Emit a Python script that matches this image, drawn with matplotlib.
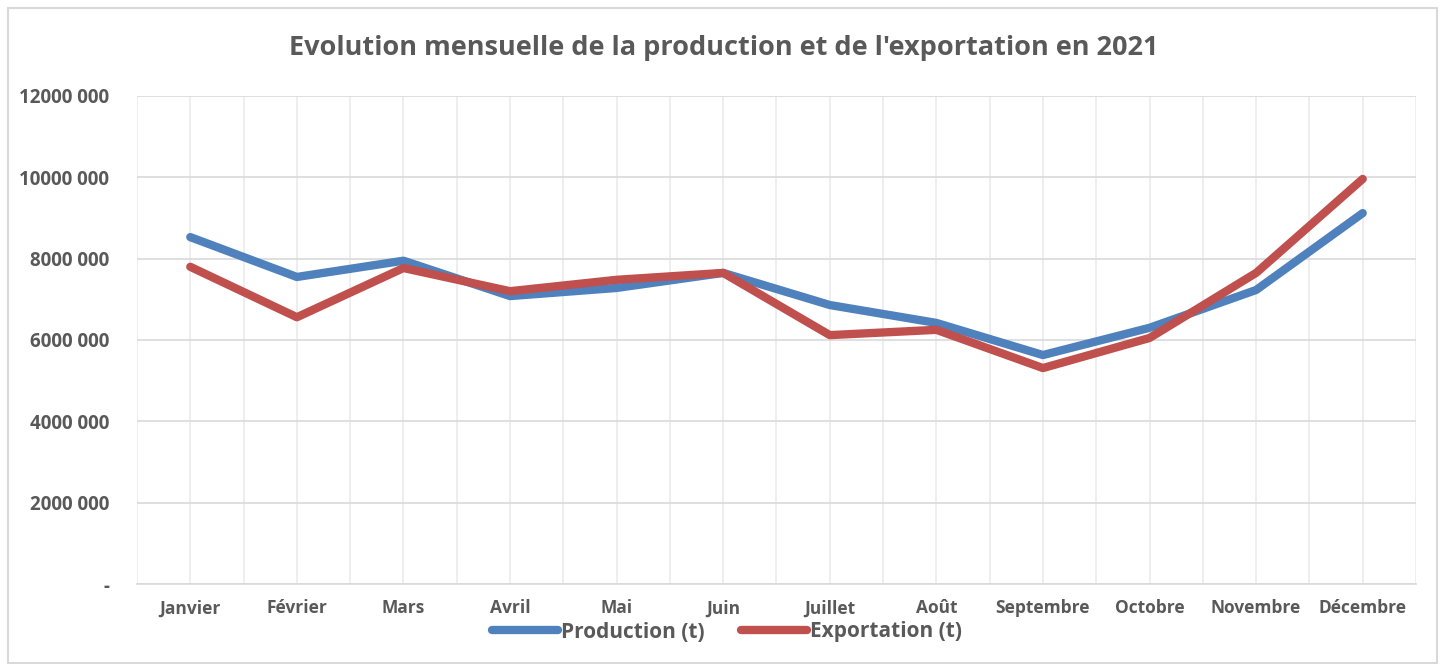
import matplotlib.pyplot as plt
from matplotlib.patches import Rectangle
from matplotlib.ticker import FixedLocator, FuncFormatter

months = ['Janvier', 'Février', 'Mars', 'Avril', 'Mai', 'Juin', 'Juillet',
          'Août', 'Septembre', 'Octobre', 'Novembre', 'Décembre']
production = [8530000, 7550000, 7950000, 7080000, 7280000, 7650000,
              6860000, 6420000, 5630000, 6300000, 7230000, 9120000]
exportation = [7800000, 6560000, 7770000, 7200000, 7480000, 7650000,
               6120000, 6250000, 5310000, 6050000, 7650000, 9960000]

plt.rcParams['font.family'] = ['Open Sans', 'DejaVu Sans']
text_grey = '#595959'

fig = plt.figure(figsize=(14.45, 6.64), dpi=100)
ax = fig.add_axes([137 / 1445, 1 - 584 / 664, (1416 - 137) / 1445, (584 - 96) / 664])

x = list(range(len(months)))
ax.plot(x, production, color='#4f81bd', lw=6, solid_capstyle='round',
        solid_joinstyle='round', label='Production (t)', zorder=3)
ax.plot(x, exportation, color='#c0504d', lw=6, solid_capstyle='round',
        solid_joinstyle='round', label='Exportation (t)', zorder=3)

ax.set_xlim(-0.5, len(months) - 0.5)
ax.set_ylim(0, 12000000)
ax.set_yticks(range(0, 12000001, 2000000))


def fmt_y(v, pos):
    # Excel style thousands label, zero shown as dash
    if v == 0:
        return '-'
    return '{} 000'.format(int(v) // 1000)


ax.yaxis.set_major_formatter(FuncFormatter(fmt_y))
ax.set_xticks(x)
ax.set_xticklabels(months)
# vertical gridlines at category centres and boundaries
ax.xaxis.set_minor_locator(FixedLocator([i - 0.5 for i in range(len(months) + 1)]))

ax.grid(axis='y', which='major', color='#d9d9d9', lw=1.2, zorder=0)
ax.grid(axis='x', which='both', color='#ebebeb', lw=1.2, zorder=0)
ax.tick_params(axis='both', which='both', length=0)
ax.tick_params(axis='x', pad=11)
ax.tick_params(axis='y', pad=20)
for lbl in ax.get_xticklabels():
    lbl.set_color(text_grey)
    lbl.set_fontweight('bold')
    lbl.set_fontsize(12.5)
for lbl in ax.get_yticklabels():
    lbl.set_color(text_grey)
    lbl.set_fontweight('bold')
    lbl.set_fontsize(13.5)

for side in ['top', 'right', 'left']:
    ax.spines[side].set_visible(False)
ax.spines['bottom'].set_color('#d9d9d9')
ax.spines['bottom'].set_linewidth(1.2)

fig.text(724 / 1445, 1 - 48 / 664,
         "Evolution mensuelle de la production et de l'exportation en 2021",
         ha='center', va='center', fontsize=19.5, fontweight='bold', color=text_grey)

leg = fig.legend(loc='center', bbox_to_anchor=(727 / 1445, 1 - 632 / 664), ncol=2,
                 frameon=False, handlelength=3.2, handletextpad=0.15,
                 columnspacing=1.7, prop={'size': 15, 'weight': 'bold'})
for t in leg.get_texts():
    t.set_color(text_grey)

# outer chart border
fig.patches.append(Rectangle((8 / 1445, 0.002), 1429 / 1445, 1 - 8 / 664 - 0.002,
                             transform=fig.transFigure, fill=False,
                             edgecolor='#d9d9d9', lw=1.5))

fig.savefig('out.png', dpi=100)
